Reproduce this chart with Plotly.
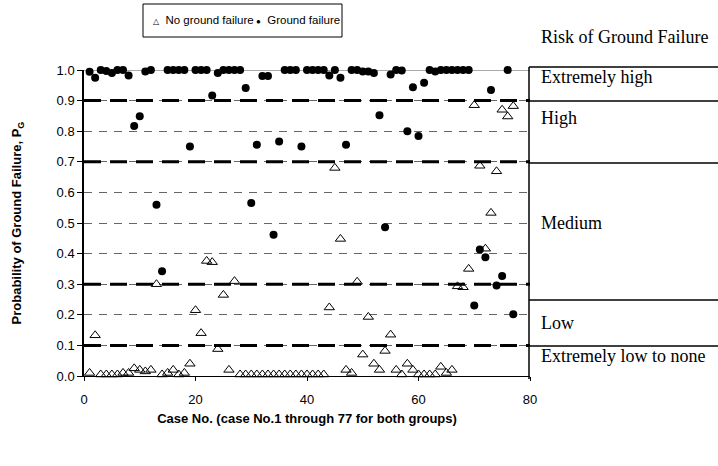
import plotly.graph_objects as go

# ---------------- data ----------------
cases = list(range(1, 78))

# Ground failure group (filled circles), case 1..77
gf_values = [
    0.994, 0.975, 1.0, 0.997, 0.99, 1.0, 1.0, 0.982, 0.817, 0.849,
    0.995, 1.0, 0.56, 0.342, 1.0, 1.0, 1.0, 1.0, 0.75, 1.0,
    1.0, 1.0, 0.917, 0.99, 1.0, 1.0, 1.0, 1.0, 0.941, 0.565,
    0.756, 0.98, 0.98, 0.462, 0.766, 1.0, 1.0, 1.0, 0.75, 1.0,
    1.0, 1.0, 1.0, 0.982, 1.0, 0.975, 0.756, 1.0, 1.0, 0.995,
    0.995, 0.99, 0.852, 0.486, 0.985, 1.0, 0.998, 0.8, 0.944, 0.784,
    0.958, 1.0, 0.995, 1.0, 1.0, 1.0, 1.0, 1.0, 1.0, 0.23,
    0.413, 0.388, 0.935, 0.296, 0.327, 1.0, 0.202,
]

# No ground failure group (open triangles), case 1..77
ngf_values = [
    0.01, 0.133, 0.005, 0.005, 0.005, 0.005, 0.01, 0.01, 0.025, 0.02,
    0.015, 0.02, 0.30, 0.005, 0.01, 0.02, 0.005, 0.01, 0.04, 0.215,
    0.14, 0.376, 0.372, 0.088, 0.265, 0.02, 0.31, 0.005, 0.005, 0.005,
    0.005, 0.005, 0.005, 0.005, 0.005, 0.005, 0.005, 0.005, 0.005, 0.005,
    0.005, 0.005, 0.005, 0.224, 0.68, 0.448, 0.02, 0.01, 0.308, 0.07,
    0.193, 0.04, 0.02, 0.082, 0.135, 0.02, 0.005, 0.04, 0.02, 0.005,
    0.005, 0.005, 0.005, 0.03, 0.01, 0.02, 0.293, 0.29, 0.35, 0.885,
    0.687, 0.416, 0.533, 0.669, 0.87, 0.848, 0.882,
]

series_names = ["No ground failure", "Ground failure"]

x_tick_vals = [0, 20, 40, 60, 80]
x_tick_text = ["0", "20", "40", "60", "80"]
y_tick_vals = [0.0, 0.1, 0.2, 0.3, 0.4, 0.5, 0.6, 0.7, 0.8, 0.9, 1.0]
y_tick_text = ["0.0", "0.1", "0.2", "0.3", "0.4", "0.5", "0.6", "0.7", "0.8", "0.9", "1.0"]

risk_boundaries = [0.1, 0.3, 0.7, 0.9]
risk_labels = ["Extremely high", "High", "Medium", "Low", "Extremely low to none"]

# ---------------- figure ----------------
W, H = 718, 466
L, R, T, B = 84, 188, 70, 90
plot_w = W - L - R
plot_h = H - T - B


def px_x(p):
    return (p - L) / plot_w


def px_y(p):
    return (H - B - p) / plot_h


fig = go.Figure()

fig.add_trace(go.Scatter(
    x=cases, y=ngf_values, mode="markers", name=series_names[0],
    marker=dict(symbol="triangle-up-open", size=9, color="black",
                line=dict(width=1, color="black")),
    cliponaxis=False, showlegend=False,
))
fig.add_trace(go.Scatter(
    x=cases, y=gf_values, mode="markers", name=series_names[1],
    marker=dict(symbol="circle", size=8, color="black"),
    cliponaxis=False, showlegend=False,
))

shapes = []
for b in risk_boundaries:
    shapes.append(dict(type="line", xref="x", yref="y", x0=0, x1=80, y0=b, y1=b,
                       line=dict(color="black", width=3, dash="17px,9px"),
                       layer="between"))
# top border at 1.0
shapes.append(dict(type="line", xref="x", yref="y", x0=0, x1=80, y0=1.0, y1=1.0,
                   line=dict(color="#555555", width=1), layer="between"))

# right-hand risk panel
panel_x0 = px_x(529)
panel_x1 = px_x(718)
shapes.append(dict(type="line", xref="paper", yref="paper", x0=panel_x0, x1=panel_x0,
                   y0=px_y(379), y1=px_y(67), line=dict(color="black", width=1.5)))
for yy in [67, 101, 163, 300, 346]:
    shapes.append(dict(type="line", xref="paper", yref="paper", x0=panel_x0, x1=panel_x1,
                       y0=px_y(yy), y1=px_y(yy), line=dict(color="black", width=1.3)))

# legend box (drawn manually to match compact Excel-style legend)
shapes.append(dict(type="rect", xref="paper", yref="paper",
                   x0=px_x(143), x1=px_x(342), y0=px_y(37), y1=px_y(4),
                   line=dict(color="black", width=1), fillcolor="white"))

annotations = []
serif = "Liberation Serif, Times New Roman, serif"
label_y = [77, 118, 223, 323, 356]
for txt, yy in zip(risk_labels, label_y):
    annotations.append(dict(text=txt, xref="paper", yref="paper", x=px_x(539), y=px_y(yy),
                            xanchor="left", yanchor="middle", showarrow=False,
                            font=dict(family=serif, size=18, color="black")))
annotations.append(dict(text="Risk of Ground Failure", xref="paper", yref="paper",
                        x=px_x(539), y=px_y(37), xanchor="left", yanchor="middle",
                        showarrow=False, font=dict(family=serif, size=18, color="black")))

# legend entries
annotations.append(dict(text="<span style='font-size:8px'>\u25b3</span>  " + series_names[0],
                        xref="paper", yref="paper", x=px_x(151), y=px_y(20),
                        xanchor="left", yanchor="middle", showarrow=False,
                        font=dict(size=11.5, color="black")))
annotations.append(dict(text="<span style='font-size:8px'>\u25cf</span>  " + series_names[1],
                        xref="paper", yref="paper", x=px_x(254), y=px_y(20),
                        xanchor="left", yanchor="middle", showarrow=False,
                        font=dict(size=11.5, color="black")))

fig.update_layout(
    width=W, height=H,
    margin=dict(l=L, r=R, t=T, b=B, pad=0, autoexpand=False),
    paper_bgcolor="white", plot_bgcolor="white",
    font=dict(family="Liberation Sans, Arial, sans-serif", size=13, color="black"),
    shapes=shapes, annotations=annotations,
    showlegend=False,
)

fig.update_xaxes(
    range=[0, 80], tickvals=x_tick_vals, ticktext=x_tick_text,
    showgrid=False, zeroline=False, showline=True, linecolor="black", linewidth=1,
    ticks="outside", ticklen=4, tickcolor="black", ticklabelstandoff=7,
    title=dict(text="<b>Case No. (case No.1 through 77 for both groups)</b>",
               font=dict(size=13), standoff=8),
    tickfont=dict(size=13),
)
fig.update_yaxes(
    range=[0, 1.0], tickvals=y_tick_vals, ticktext=y_tick_text,
    showgrid=True, gridcolor="#666666", gridwidth=1, griddash="8px,7px",
    zeroline=False, showline=True, linecolor="black", linewidth=1.5,
    ticks="outside", ticklen=5, tickcolor="black",
    title=dict(text="<b>Probability of Ground Failure, P<sub>G</sub></b>",
               font=dict(size=13), standoff=32),
    tickfont=dict(size=13),
)

fig.write_html("out.html", config={"displayModeBar": False},
               post_script="document.body.style.margin='0';")
